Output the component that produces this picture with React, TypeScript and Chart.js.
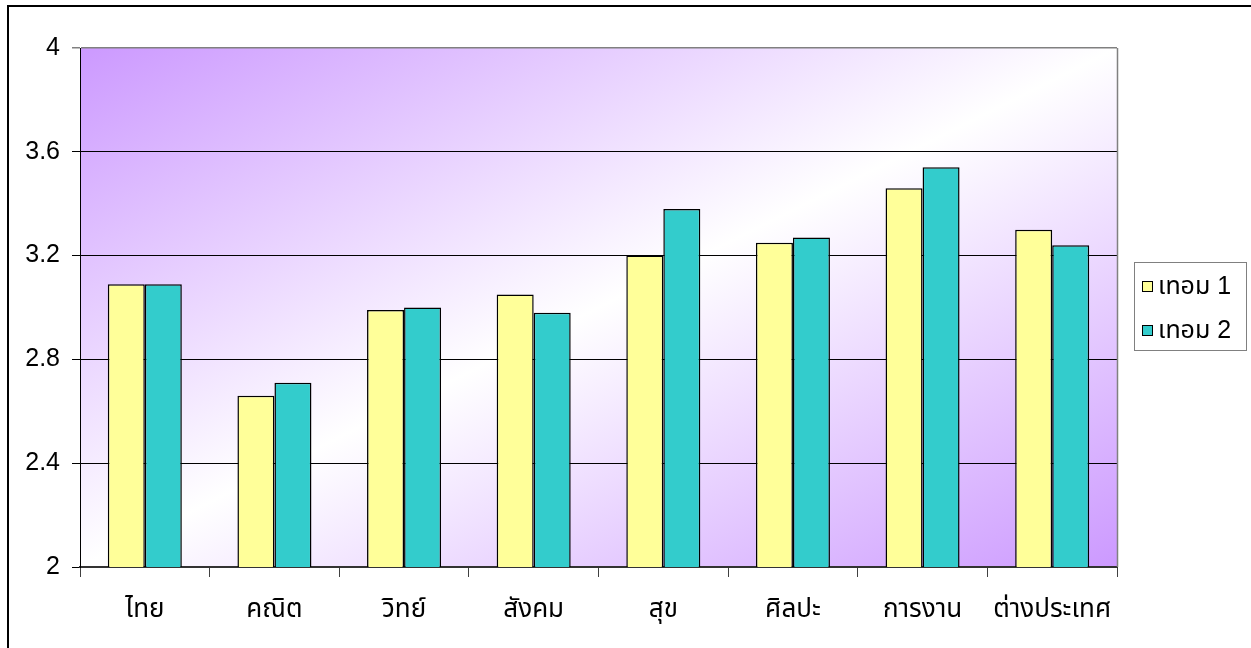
import React, { useEffect, useRef } from "react";
import { Chart, registerables } from "chart.js";

Chart.register(...registerables);

const categories = ["ไทย", "คณิต", "วิทย์", "สังคม", "สุข", "ศิลปะ", "การงาน", "ต่างประเทศ"];
const term1 = [3.09, 2.66, 2.99, 3.05, 3.2, 3.25, 3.46, 3.3];
const term2 = [3.09, 2.71, 3.0, 2.98, 3.38, 3.27, 3.54, 3.24];
const seriesLabels = ["เทอม 1", "เทอม 2"];
const seriesColors = ["#FFFF99", "#33CCCC"];
const yTicks = [2, 2.4, 2.8, 3.2, 3.6, 4];

const FONT = "'Liberation Sans', Arial, 'Noto Sans Thai', 'DejaVu Sans', sans-serif";
const PURPLE = "#CC99FF";

const bgPlugin = {
  id: "bgGradient",
  beforeDraw(chart: any) {
    const { ctx, chartArea } = chart;
    if (!chartArea) return;
    const { left, top, right, bottom } = chartArea;
    const W = right - left;
    const H = bottom - top;
    const k = (2 * W * H) / (W * W + H * H);
    const g = ctx.createLinearGradient(left, top, left + k * H, top + k * W);
    g.addColorStop(0, PURPLE);
    g.addColorStop(0.5, "#FFFFFF");
    g.addColorStop(1, PURPLE);
    ctx.save();
    ctx.fillStyle = g;
    ctx.fillRect(left, top, W, H);
    ctx.restore();
  },
  afterDraw(chart: any) {
    const { ctx, chartArea } = chart;
    const { top, right, bottom } = chartArea;
    ctx.save();
    // right frame
    ctx.strokeStyle = "#808080";
    ctx.lineWidth = 1.5;
    ctx.beginPath();
    ctx.moveTo(right + 0.5, top);
    ctx.lineTo(right + 0.5, bottom);
    ctx.stroke();

    // legend
    const lx = right + 17;
    const ly = top + 214;
    const lw = 112;
    const lh = 88;
    ctx.fillStyle = "#FFFFFF";
    ctx.fillRect(lx, ly, lw, lh);
    ctx.strokeStyle = "#808080";
    ctx.lineWidth = 1;
    ctx.strokeRect(lx + 0.5, ly + 0.5, lw, lh);
    chart.data.datasets.forEach((ds: any, i: number) => {
      const cy = ly + 24 + i * 44;
      ctx.fillStyle = ds.backgroundColor;
      ctx.fillRect(lx + 8, cy - 5, 11, 11);
      ctx.strokeStyle = "#000";
      ctx.lineWidth = 1;
      ctx.strokeRect(lx + 8.5, cy - 4.5, 10, 10);
      ctx.fillStyle = "#000";
      ctx.font = `25px ${FONT}`;
      ctx.textBaseline = "middle";
      ctx.textAlign = "left";
      ctx.fillText(ds.label, lx + 24, cy + 1);
    });
    ctx.restore();
  },
};

export default function App() {
  const ref = useRef<HTMLCanvasElement>(null);
  useEffect(() => {
    if (!ref.current) return;
    const chart = new Chart(ref.current, {
      type: "bar",
      data: {
        labels: categories,
        datasets: [
          {
            label: seriesLabels[0],
            data: term1,
            backgroundColor: seriesColors[0],
            borderColor: "#000",
            borderWidth: 1.5,
            categoryPercentage: 0.571,
            barPercentage: 1,
          },
          {
            label: seriesLabels[1],
            data: term2,
            backgroundColor: seriesColors[1],
            borderColor: "#000",
            borderWidth: 1.5,
            categoryPercentage: 0.571,
            barPercentage: 1,
          },
        ],
      },
      options: {
        responsive: false,
        animation: false,
        layout: { padding: { top: 48, right: 134, left: 0, bottom: 0 } },
        plugins: {
          legend: { display: false },
          tooltip: { enabled: false },
          title: { display: false },
        },
        scales: {
          x: {
            grid: {
              offset: true,
              drawOnChartArea: false,
              drawTicks: true,
              tickLength: 10,
              color: "#404040",
            },
            border: { display: true, color: "#333333", width: 2 },
            ticks: {
              color: "#000",
              padding: 17,
              maxRotation: 0,
              autoSkip: false,
              font: { family: FONT, size: 26 },
            },
            afterFit(scale: any) {
              scale.height = 81;
            },
          },
          y: {
            min: 2,
            max: 4,
            afterBuildTicks(scale: any) {
              scale.ticks = yTicks.map((v) => ({ value: v }));
            },
            grid: {
              color: (c: any) => (c.tick && c.tick.value === 4 ? "#808080" : "#000"),
              lineWidth: (c: any) => (c.tick && c.tick.value === 4 ? 1.5 : 1),
              tickLength: 8,
              drawTicks: true,
            },
            border: { display: true, color: "#000", width: 1 },
            ticks: {
              color: "#000",
              padding: 12,
              font: { family: FONT, size: 25 },
              callback: (v: any) => String(Number(Number(v).toFixed(1))),
            },
            afterFit(scale: any) {
              scale.width = 80;
            },
          },
        },
      },
      plugins: [bgPlugin],
    });
    return () => chart.destroy();
  }, []);

  return (
    <div style={{ position: "fixed", left: 0, top: 0, width: 1251, height: 648, overflow: "hidden", background: "#fff" }}>
      <div
        style={{
          position: "absolute",
          left: 7,
          top: 5,
          width: 1400,
          height: 800,
          border: "2px solid #000",
          pointerEvents: "none",
        }}
      />
      <canvas ref={ref} width={1251} height={648} style={{ position: "absolute", left: 0, top: 0, display: "block" }} />
    </div>
  );
}
